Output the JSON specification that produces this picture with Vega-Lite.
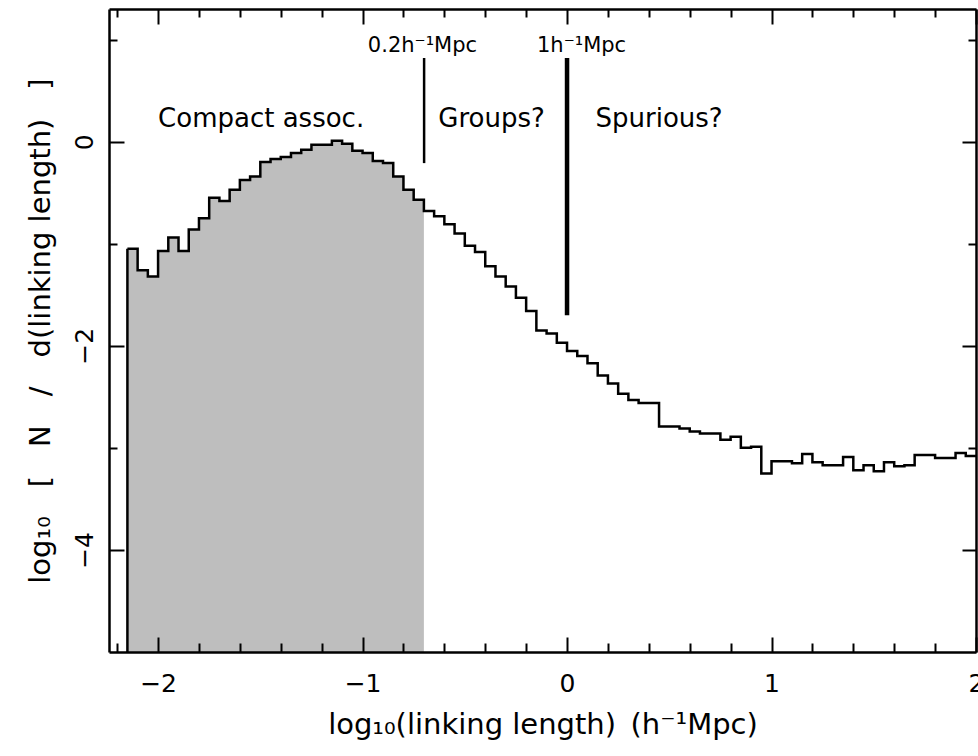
{
  "$schema": "https://vega.github.io/schema/vega-lite/v6.json",
  "width": 867,
  "height": 643,
  "autosize": {"type": "none"},
  "padding": {"left": 109, "top": 9, "right": 2, "bottom": 104},
  "background": "white",
  "config": {
    "view": {"stroke": null},
    "font": "DejaVu Sans",
    "axis": {
      "zindex": 1,
      "grid": false,
      "tickColor": "black",
      "domainColor": "black",
      "labelColor": "black",
      "titleColor": "black",
      "tickWidth": 2,
      "domainWidth": 2.5,
      "labelFont": "DejaVu Sans",
      "titleFont": "DejaVu Sans",
      "titleFontWeight": "normal"
    }
  },
  "datasets": {
    "hist": [
      {"x": -2.15, "y": -1.05}, {"x": -2.10, "y": -1.26}, {"x": -2.05, "y": -1.32}, {"x": -2.00, "y": -1.07},
      {"x": -1.95, "y": -0.94}, {"x": -1.90, "y": -1.07}, {"x": -1.85, "y": -0.86}, {"x": -1.80, "y": -0.75},
      {"x": -1.75, "y": -0.55}, {"x": -1.70, "y": -0.58}, {"x": -1.65, "y": -0.47}, {"x": -1.60, "y": -0.375},
      {"x": -1.55, "y": -0.34}, {"x": -1.50, "y": -0.20}, {"x": -1.45, "y": -0.17}, {"x": -1.40, "y": -0.15},
      {"x": -1.35, "y": -0.11}, {"x": -1.30, "y": -0.08}, {"x": -1.25, "y": -0.03}, {"x": -1.20, "y": -0.03},
      {"x": -1.15, "y": 0.01}, {"x": -1.10, "y": -0.02}, {"x": -1.05, "y": -0.09}, {"x": -1.00, "y": -0.11},
      {"x": -0.95, "y": -0.19}, {"x": -0.90, "y": -0.21}, {"x": -0.85, "y": -0.34}, {"x": -0.80, "y": -0.47},
      {"x": -0.75, "y": -0.57}, {"x": -0.70, "y": -0.68}, {"x": -0.65, "y": -0.73}, {"x": -0.60, "y": -0.81},
      {"x": -0.55, "y": -0.90}, {"x": -0.50, "y": -1.02}, {"x": -0.45, "y": -1.08}, {"x": -0.40, "y": -1.22},
      {"x": -0.35, "y": -1.32}, {"x": -0.30, "y": -1.42}, {"x": -0.25, "y": -1.53}, {"x": -0.20, "y": -1.66},
      {"x": -0.15, "y": -1.85}, {"x": -0.10, "y": -1.88}, {"x": -0.05, "y": -1.97}, {"x": 0.00, "y": -2.05},
      {"x": 0.05, "y": -2.10}, {"x": 0.10, "y": -2.17}, {"x": 0.15, "y": -2.29}, {"x": 0.20, "y": -2.37},
      {"x": 0.25, "y": -2.47}, {"x": 0.30, "y": -2.53}, {"x": 0.35, "y": -2.56}, {"x": 0.40, "y": -2.56},
      {"x": 0.45, "y": -2.79}, {"x": 0.50, "y": -2.79}, {"x": 0.55, "y": -2.81}, {"x": 0.60, "y": -2.84},
      {"x": 0.65, "y": -2.86}, {"x": 0.70, "y": -2.86}, {"x": 0.75, "y": -2.92}, {"x": 0.80, "y": -2.89},
      {"x": 0.85, "y": -3.00}, {"x": 0.90, "y": -2.99}, {"x": 0.95, "y": -3.25}, {"x": 1.00, "y": -3.13},
      {"x": 1.05, "y": -3.13}, {"x": 1.10, "y": -3.15}, {"x": 1.15, "y": -3.06}, {"x": 1.20, "y": -3.14},
      {"x": 1.25, "y": -3.17}, {"x": 1.30, "y": -3.17}, {"x": 1.35, "y": -3.09}, {"x": 1.40, "y": -3.22},
      {"x": 1.45, "y": -3.17}, {"x": 1.50, "y": -3.23}, {"x": 1.55, "y": -3.14}, {"x": 1.60, "y": -3.18},
      {"x": 1.65, "y": -3.17}, {"x": 1.70, "y": -3.07}, {"x": 1.75, "y": -3.07}, {"x": 1.80, "y": -3.10},
      {"x": 1.85, "y": -3.10}, {"x": 1.90, "y": -3.05}, {"x": 1.95, "y": -3.08}, {"x": 2.00, "y": -3.08}
    ],
    "markers": [
      {"x": -0.699, "top": 0.82, "bottom": -0.21},
      {"x": 0.0, "top": 0.82, "bottom": -1.70}
    ],
    "regions": [
      {"x": -1.496, "y": 0.147, "text": "Compact assoc."},
      {"x": -0.369, "y": 0.147, "text": "Groups?"},
      {"x": 0.45, "y": 0.147, "text": "Spurious?"}
    ],
    "markerLabels": [
      {"x": -0.707, "y": 0.88, "text": "0.2h⁻¹Mpc"},
      {"x": 0.071, "y": 0.88, "text": "1h⁻¹Mpc"}
    ]
  },
  "resolve": {"axis": {"x": "independent", "y": "independent"}},
  "layer": [
    {
      "data": {"name": "hist"},
      "transform": [{"filter": "datum.x < -0.69"}],
      "mark": {"type": "area", "interpolate": "step-after", "color": "black", "opacity": 0.255},
      "encoding": {
        "x": {"field": "x", "type": "quantitative",
              "scale": {"domain": [-2.24, 2.0], "nice": false, "zero": false},
              "axis": {"orient": "bottom", "zindex": 1, "values": [-2, -1, 0, 1, 2], "ticks": false, "domain": true,
                       "labelFontSize": 25, "labelPadding": 19, "labelFlush": false, "labelOverlap": false,
                       "title": "log₁₀(linking length)\u2002(h⁻¹Mpc)", "titleFontSize": 29, "titlePadding": 14}},
        "y": {"field": "y", "type": "quantitative",
              "scale": {"domain": [-5, 1.3], "nice": false, "zero": false},
              "axis": {"orient": "left", "zindex": 1, "values": [-4, -2, 0], "ticks": false, "domain": true,
                       "labelAngle": -90, "labelAlign": "center", "labelBaseline": "alphabetic",
                       "labelPadding": 17, "labelFontSize": 25, "labelOverlap": false, "labelFlush": false,
                       "title": "log₁₀\u2003[\u2003N\u2003/\u2003d(linking length)\u2003]", "titleFontSize": 29, "titlePadding": 17}},
        "y2": {"datum": -5}
      }
    },
    {
      "data": {"name": "hist"},
      "mark": {"type": "line", "interpolate": "step-after", "color": "black", "strokeWidth": 2.5},
      "encoding": {
        "x": {"field": "x", "type": "quantitative",
              "scale": {"domain": [-2.24, 2.0], "nice": false, "zero": false},
              "axis": {"orient": "bottom", "zindex": 1, "values": [-2, -1, 0, 1, 2], "tickSize": -15,
                       "labels": false, "domain": false, "title": null}},
        "y": {"field": "y", "type": "quantitative",
              "scale": {"domain": [-5, 1.3], "nice": false, "zero": false},
              "axis": {"orient": "left", "zindex": 1, "values": [-4, -2, 0], "tickSize": -15,
                       "labels": false, "domain": false, "title": null}}
      }
    },
    {
      "data": {"name": "hist"},
      "transform": [{"filter": "datum.x < -2.14"}],
      "mark": {"type": "rule", "color": "black", "strokeWidth": 2.5},
      "encoding": {
        "x": {"field": "x", "type": "quantitative",
              "scale": {"domain": [-2.24, 2.0], "nice": false, "zero": false},
              "axis": {"orient": "bottom", "zindex": 1, "values": [-2.2, -1.8, -1.6, -1.4, -1.2, -0.8, -0.6, -0.4, -0.2, 0.2, 0.4, 0.6, 0.8, 1.2, 1.4, 1.6, 1.8],
                       "tickSize": -9, "labels": false, "domain": false, "title": null}},
        "y": {"field": "y", "type": "quantitative",
              "scale": {"domain": [-5, 1.3], "nice": false, "zero": false},
              "axis": {"orient": "left", "zindex": 1, "values": [1, -1, -3], "tickSize": -8,
                       "labels": false, "domain": false, "title": null}},
        "y2": {"datum": -5}
      }
    },
    {
      "data": {"name": "markers"},
      "transform": [{"filter": "datum.x < -0.5"}],
      "mark": {"type": "rule", "color": "black", "strokeWidth": 2.5},
      "encoding": {
        "x": {"field": "x", "type": "quantitative",
              "scale": {"domain": [-2.24, 2.0], "nice": false, "zero": false},
              "axis": {"orient": "top", "zindex": 1, "ticks": false, "labels": false, "domain": true, "title": null}},
        "y": {"field": "top", "type": "quantitative",
              "scale": {"domain": [-5, 1.3], "nice": false, "zero": false},
              "axis": {"orient": "right", "zindex": 1, "ticks": false, "labels": false, "domain": true, "title": null}},
        "y2": {"field": "bottom"}
      }
    },
    {
      "data": {"name": "markers"},
      "transform": [{"filter": "datum.x > -0.5"}],
      "mark": {"type": "rule", "color": "black", "strokeWidth": 4.5},
      "encoding": {
        "x": {"field": "x", "type": "quantitative",
              "scale": {"domain": [-2.24, 2.0], "nice": false, "zero": false},
              "axis": {"orient": "top", "zindex": 1, "values": [-2, -1, 0, 1, 2], "tickSize": -15,
                       "labels": false, "domain": false, "title": null}},
        "y": {"field": "top", "type": "quantitative",
              "scale": {"domain": [-5, 1.3], "nice": false, "zero": false},
              "axis": {"orient": "right", "zindex": 1, "values": [-4, -2, 0], "tickSize": -14,
                       "labels": false, "domain": false, "title": null}},
        "y2": {"field": "bottom"}
      }
    },
    {
      "data": {"name": "regions"},
      "mark": {"type": "text", "align": "center", "baseline": "alphabetic", "fontSize": 26, "font": "DejaVu Sans", "color": "black"},
      "encoding": {
        "x": {"field": "x", "type": "quantitative",
              "scale": {"domain": [-2.24, 2.0], "nice": false, "zero": false},
              "axis": {"orient": "top", "zindex": 1, "values": [-2.2, -1.8, -1.6, -1.4, -1.2, -0.8, -0.6, -0.4, -0.2, 0.2, 0.4, 0.6, 0.8, 1.2, 1.4, 1.6, 1.8],
                       "tickSize": -8, "labels": false, "domain": false, "title": null}},
        "y": {"field": "y", "type": "quantitative",
              "scale": {"domain": [-5, 1.3], "nice": false, "zero": false},
              "axis": {"orient": "right", "zindex": 1, "values": [1, -1, -3], "tickSize": -8,
                       "labels": false, "domain": false, "title": null}},
        "text": {"field": "text"}
      }
    },
    {
      "data": {"name": "markerLabels"},
      "mark": {"type": "text", "align": "center", "baseline": "alphabetic", "fontSize": 21, "font": "DejaVu Sans", "color": "black"},
      "encoding": {
        "x": {"field": "x", "type": "quantitative",
              "scale": {"domain": [-2.24, 2.0], "nice": false, "zero": false}, "axis": null},
        "y": {"field": "y", "type": "quantitative",
              "scale": {"domain": [-5, 1.3], "nice": false, "zero": false}, "axis": null},
        "text": {"field": "text"}
      }
    }
  ]
}
